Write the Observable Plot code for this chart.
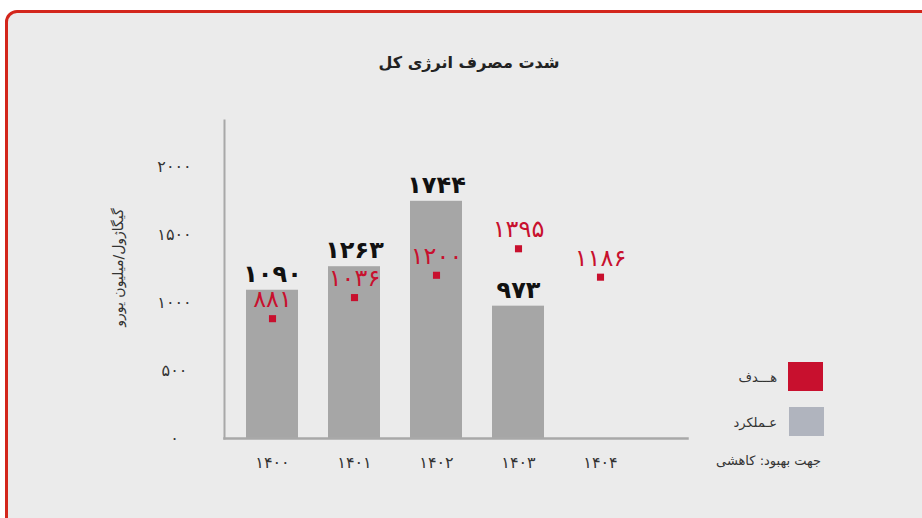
<!DOCTYPE html>
<html><head><meta charset="utf-8">
<script src="https://cdn.jsdelivr.net/npm/d3@7"></script>
<script src="https://cdn.jsdelivr.net/npm/@observablehq/plot@0.6"></script>
<style>
body{margin:0;background:#fff;width:922px;height:518px;overflow:hidden;position:relative;font-family:"DejaVu Sans",sans-serif;}
#card{position:absolute;left:5px;top:10px;width:960px;height:560px;border:3px solid #d3261c;border-radius:12px;background:#ebebeb;box-sizing:border-box;}
#title{position:absolute;top:53px;left:300px;width:338px;text-align:center;font-weight:bold;font-size:16px;color:#222;direction:rtl;white-space:nowrap;letter-spacing:-0.3px;}
#chart{position:absolute;left:0;top:0;}
.lg{position:absolute;font-size:13px;color:#333;direction:rtl;white-space:nowrap;text-align:right;}
.sw{position:absolute;width:35px;height:29px;}
</style></head>
<body>
<div id="card"></div>
<div id="chart"></div>
<div id="title">شدت مصرف انرژی کل</div>
<div class="sw" style="left:788px;top:362px;background:#c8102e"></div>
<div class="sw" style="left:789px;top:407px;background:#b0b4be"></div>
<div class="lg" id="lg1" style="right:145px;top:370px"></div>
<div class="lg" id="lg2" style="right:145px;top:415px"></div>
<div class="lg" id="lg3" style="right:101px;top:453px"></div>
<script>
const years = ["1400","1401","1402","1403","1404"];
const actualValues = [1090, 1263, 1744, 973, null];
const targetValues = [881, 1036, 1200, 1395, 1186];
const yTicks = [0, 500, 1000, 1500, 2000];
const yLabel = "گیگاژول/میلیون یورو";
const legendTarget = "هـــدف";
const legendActual = "عـملکرد";
const directionNote = "جهت بهبود: کاهشی";

const fa = v => String(v).replace(/\d/g, d => "۰۱۲۳۴۵۶۷۸۹"[d]);

document.getElementById("lg1").textContent = legendTarget;
document.getElementById("lg2").textContent = legendActual;
document.getElementById("lg3").textContent = directionNote;

const actualData = years.map((y, i) => ({year: y, value: actualValues[i]})).filter(d => d.value != null);
const targetData = years.map((y, i) => ({year: y, value: targetValues[i]})).filter(d => d.value != null);

const chart = Plot.plot({
  width: 922,
  height: 518,
  marginLeft: 224,
  marginRight: 235,
  marginTop: 120,
  marginBottom: 80,
  style: {fontFamily: "DejaVu Sans", background: "transparent", overflow: "visible"},
  x: {domain: years, paddingInner: 0.366, paddingOuter: 0.506, align: 0.265},
  y: {domain: [0, 2338]},
  marks: [
    Plot.barY(actualData, {x: "year", y: "value", fill: "#a6a6a6"}),
    Plot.frame({anchor: "left", stroke: "#a8a8a8", strokeWidth: 2}),
    Plot.frame({anchor: "bottom", stroke: "#a8a8a8", strokeWidth: 2.5}),
    Plot.axisY({ticks: yTicks, tickSize: 0, tickPadding: 50, textAnchor: "middle", tickFormat: fa, fontSize: 16, fill: "#333", label: null}),
    Plot.axisX({tickSize: 0, tickPadding: 18, tickFormat: fa, fontSize: 16, fill: "#333", label: null}),
    Plot.text([yLabel], {frameAnchor: "left", text: d => d, rotate: -90, textAnchor: "middle", dx: -106, dy: -12, fontSize: 14, fill: "#333"}),
    Plot.text(actualData, {x: "year", y: "value", text: d => fa(d.value), dy: -16, fontSize: 24, fontWeight: "bold", fill: "#111"}),
    Plot.dot(targetData, {x: "year", y: "value", symbol: "square", r: 4, fill: "#c8102e"}),
    Plot.text(targetData, {x: "year", y: "value", text: d => fa(d.value), dy: -19, fontSize: 24, fill: "#c8102e"})
  ]
});
document.getElementById("chart").appendChild(chart);
</script>
</body></html>
